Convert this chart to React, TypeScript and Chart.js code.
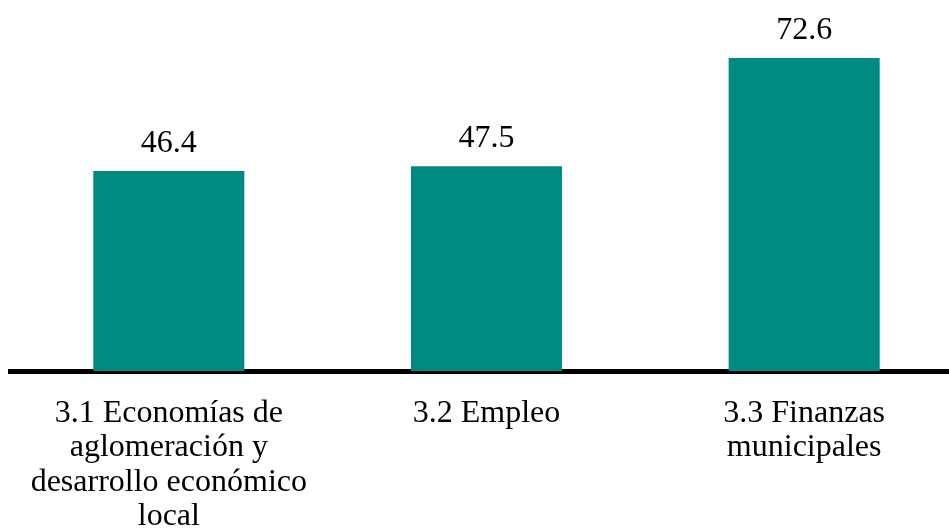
import React, { useEffect, useRef } from "react";
import { Chart, registerables } from "chart.js";

Chart.register(...registerables);

const categories: string[][] = [
  ["3.1 Economías de", "aglomeración y", "desarrollo económico", "local"],
  ["3.2 Empleo"],
  ["3.3 Finanzas", "municipales"],
];
const values: number[] = [46.4, 47.5, 72.6];
const valueLabels: string[] = ["46.4", "47.5", "72.6"];

const FONT = '"Liberation Serif", "DejaVu Serif", serif';

const valueLabelPlugin = {
  id: "valueLabels",
  afterDatasetsDraw(chart: any) {
    const ctx = chart.ctx;
    const meta = chart.getDatasetMeta(0);
    ctx.save();
    ctx.font = `32px ${FONT}`;
    ctx.fillStyle = "#000000";
    ctx.textAlign = "center";
    ctx.textBaseline = "alphabetic";
    meta.data.forEach((bar: any, i: number) => {
      ctx.fillText(valueLabels[i], bar.x, bar.y - 19);
    });
    ctx.restore();
  },
};

export default function App() {
  const canvasRef = useRef<HTMLCanvasElement | null>(null);

  useEffect(() => {
    document.body.style.margin = "0";
    document.body.style.overflow = "hidden";
    const canvas = canvasRef.current;
    if (!canvas) return;
    let chart: Chart | null = null;
    let cancelled = false;
    const build = () => {
      if (cancelled) return;
      chart = new Chart(canvas, {
        type: "bar",
        data: {
          labels: categories,
          datasets: [
            {
              data: values,
              backgroundColor: "#008a84",
              borderWidth: 0,
              categoryPercentage: 1,
              barPercentage: 0.4755,
            },
          ],
        },
        options: {
          responsive: false,
          animation: false,
          devicePixelRatio: 1,
          layout: { padding: { left: 10, right: 7, top: 26, bottom: 0 } },
          plugins: {
            legend: { display: false },
            tooltip: { enabled: false },
          },
          scales: {
            x: {
              grid: { display: false, drawTicks: false },
              border: { display: true, color: "#000000", width: 5 },
              ticks: {
                color: "#000000",
                padding: 25,
                autoSkip: false,
                maxRotation: 0,
                minRotation: 0,
                font: { family: FONT, size: 32, lineHeight: 1.08 },
              },
              afterFit: (scale: any) => {
                scale.height = 160;
              },
            },
            y: {
              display: false,
              min: 0,
              max: 80,
            },
          },
        },
        plugins: [valueLabelPlugin],
      });
    };
    const fonts = (document as any).fonts;
    if (fonts && fonts.load) {
      fonts.load('32px "Liberation Serif"', "3.1 Economías").then(build, build);
    } else {
      build();
    }
    return () => {
      cancelled = true;
      if (chart) chart.destroy();
    };
  }, []);

  return (
    <div style={{ width: 949, height: 531, overflow: "hidden", background: "#ffffff" }}>
      <canvas ref={canvasRef} width={970} height={531} style={{ width: 970, height: 531, display: "block" }} />
    </div>
  );
}
